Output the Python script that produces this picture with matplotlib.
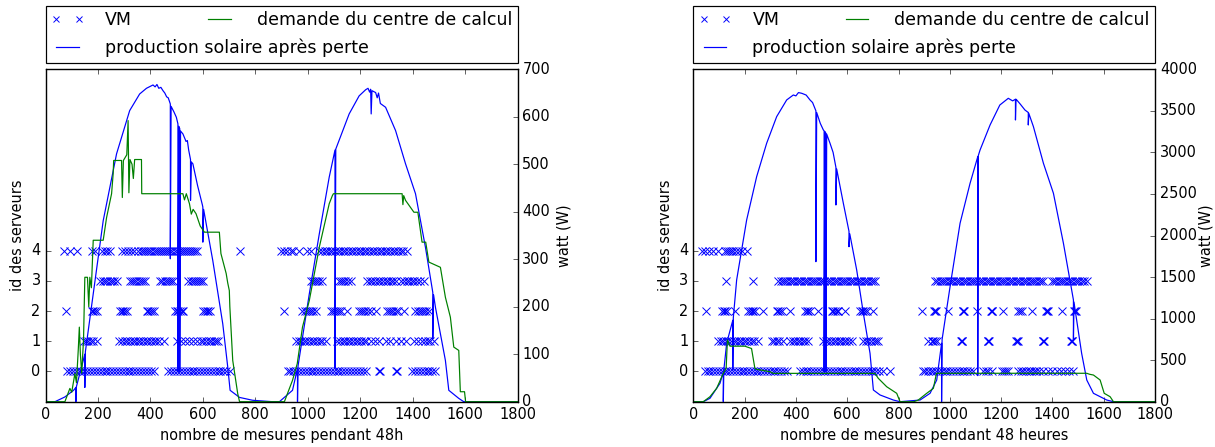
import matplotlib
matplotlib.use('Agg')
import matplotlib.pyplot as plt
from matplotlib.lines import Line2D

# ---------- donnees ----------
# production solaire apres perte (mesure, watt) - petit panneau
sol_48h = [(0, 0), (36, 0), (74, 10), (107, 24), (116, 30), (116, 0), (118, 32),
           (144, 87), (150, 100), (150, 30), (152, 105), (182, 227), (220, 381),
           (271, 522), (321, 613), (359, 648), (385, 660), (410, 667), (418, 663),
           (425, 668), (432, 660), (440, 662), (448, 655), (455, 650), (462, 642),
           (468, 640), (473, 632), (476, 627), (476, 301), (479, 622), (490, 610),
           (499, 599), (505, 585), (505, 63), (508, 580), (512, 575), (512, 63),
           (515, 570), (524, 564), (530, 556), (536, 548), (541, 550), (546, 530),
           (553, 510), (553, 424), (556, 505), (562, 501), (580, 455), (598, 415),
           (600, 410), (600, 336), (603, 405), (638, 297), (676, 164), (695, 73),
           (704, 24), (740, 9), (790, 3), (866, 0), (892, 0), (942, 24), (961, 70),
           (961, 0), (963, 75), (1006, 227), (1044, 353), (1082, 473), (1104, 530),
           (1104, 70), (1107, 532), (1158, 606), (1196, 644), (1221, 657),
           (1230, 660), (1236, 652), (1240, 658), (1242, 606), (1245, 655),
           (1259, 651), (1265, 640), (1270, 650), (1277, 628), (1297, 620),
           (1335, 571), (1373, 501), (1411, 438), (1449, 325), (1477, 230),
           (1477, 133), (1480, 225), (1487, 199), (1525, 87), (1538, 24),
           (1576, 7), (1595, 0), (1800, 0)]

# demande du centre de calcul - petit panneau
dem_48h = [(0, 0), (74, 0), (93, 28), (100, 20), (112, 59), (118, 40), (125, 110),
           (129, 157), (133, 100), (138, 60), (145, 130), (150, 262), (160, 262),
           (165, 200), (169, 262), (175, 240), (182, 340), (220, 340), (233, 388),
           (252, 438), (258, 480), (260, 508), (290, 508), (293, 430), (297, 508),
           (310, 520), (315, 592), (318, 440), (322, 510), (330, 500), (335, 470),
           (340, 510), (366, 510), (367, 438), (524, 438), (530, 425), (537, 438),
           (549, 417), (556, 395), (563, 405), (574, 396), (590, 370), (606, 357),
           (663, 357), (669, 312), (689, 270), (695, 250), (701, 234), (703, 200),
           (714, 87), (733, 17), (740, 0), (911, 0), (942, 45), (960, 80),
           (980, 157), (1006, 213), (1044, 325), (1082, 417), (1094, 434),
           (1098, 438), (1360, 438), (1363, 415), (1366, 434), (1373, 424),
           (1405, 399), (1420, 399), (1436, 336), (1450, 336), (1462, 294),
           (1506, 283), (1525, 220), (1544, 178), (1557, 115), (1576, 108),
           (1582, 21), (1598, 21), (1602, 0), (1800, 0)]

# production solaire apres perte - grand panneau
sol_48heures = [(0, 0), (39, 0), (65, 41), (104, 221), (117, 360), (117, 0),
                (119, 380), (130, 703), (154, 980), (154, 381), (156, 1010),
                (169, 1465), (208, 2187), (247, 2708), (286, 3110), (325, 3430),
                (364, 3631), (390, 3691), (400, 3680), (410, 3720), (423, 3711),
                (440, 3690), (455, 3631), (465, 3600), (478, 3500), (478, 1685),
                (481, 3480), (495, 3350), (507, 3270), (510, 3260), (510, 361),
                (513, 3250), (517, 3230), (517, 361), (520, 3220), (533, 3110),
                (545, 3000), (556, 2820), (556, 2367), (559, 2800), (585, 2387),
                (607, 2050), (607, 1865), (610, 2020), (637, 1585), (663, 1064),
                (689, 582), (702, 141), (728, 81), (780, 20), (806, 0), (884, 20),
                (923, 101), (949, 261), (968, 703), (968, 0), (970, 750),
                (1001, 1384), (1040, 2147), (1079, 2628), (1109, 2948),
                (1109, 314), (1111, 2960), (1118, 3029), (1157, 3330),
                (1195, 3570), (1228, 3651), (1245, 3620), (1256, 3640),
                (1256, 3390), (1258, 3640), (1261, 3631), (1275, 3580),
                (1293, 3510), (1306, 3480), (1306, 3330), (1308, 3470),
                (1326, 3310), (1365, 2869), (1404, 2508), (1443, 1906),
                (1482, 1224), (1482, 742), (1484, 1200), (1514, 582), (1534, 261),
                (1560, 101), (1612, 20), (1638, 0), (1800, 0)]

# demande du centre de calcul - grand panneau
dem_48heures = [(0, 0), (39, 0), (65, 60), (91, 161), (117, 342), (128, 400),
                (133, 742), (139, 700), (143, 668), (201, 668), (227, 640),
                (240, 402), (247, 390), (298, 361), (312, 341), (708, 341),
                (721, 282), (754, 180), (793, 101), (806, 0), (860, 0), (877, 20),
                (910, 101), (936, 161), (948, 342), (1534, 342), (1545, 330),
                (1560, 321), (1586, 261), (1602, 101), (1625, 60), (1638, 0),
                (1800, 0)]

# VM : position (mesure) pour chaque id de serveur - petit panneau
vm_48h = {
    0: [82, 93, 104, 115, 126, 137, 148, 159, 170, 181, 192, 203, 214, 225, 236,
        247, 258, 269, 280, 291, 302, 313, 324, 335, 346, 357, 368, 379, 390, 401,
        412, 469, 480, 491, 502, 513, 524, 535, 546, 557, 568, 579, 590, 601, 612,
        623, 634, 645, 656, 667, 678, 689, 703, 923, 934, 945, 956, 967, 978, 989,
        1000, 1011, 1022, 1033, 1044, 1055, 1066, 1077, 1088, 1099, 1110, 1121,
        1132, 1143, 1154, 1165, 1176, 1187, 1198, 1209, 1221, 1272, 1276, 1335,
        1339, 1398, 1409, 1420, 1431, 1442, 1453, 1464, 1475, 1487],
    1: [146, 155, 163, 172, 180, 196, 279, 292, 302, 312, 322, 332, 342, 352, 362,
        372, 382, 392, 402, 412, 422, 433, 450, 500, 517, 533, 548, 563, 578, 592,
        602, 612, 622, 632, 642, 650, 659, 955, 965, 975, 985, 995, 1005, 1015,
        1025, 1035, 1045, 1055, 1069, 1113, 1123, 1133, 1143, 1153, 1163, 1173,
        1183, 1193, 1203, 1213, 1223, 1240, 1256, 1272, 1297, 1315, 1335, 1355,
        1373, 1405, 1420, 1435, 1448, 1458, 1468, 1481],
    2: [79, 177, 183, 190, 196, 285, 290, 296, 303, 310, 386, 392, 399, 405, 412,
        494, 500, 506, 513, 520, 526, 602, 608, 614, 620, 627, 911, 980, 988, 996,
        1004, 1012, 1020, 1031, 1088, 1096, 1104, 1112, 1120, 1128, 1151, 1196,
        1204, 1212, 1220, 1228, 1240, 1259, 1303, 1311, 1319, 1327, 1335, 1345,
        1367, 1411, 1419, 1427, 1435, 1443, 1451, 1462],
    3: [209, 218, 227, 236, 245, 254, 263, 272, 323, 331, 339, 347, 355, 363, 371,
        380, 437, 445, 455, 463, 471, 480, 488, 545, 553, 561, 569, 578, 586, 594,
        602, 1012, 1020, 1028, 1036, 1044, 1056, 1120, 1128, 1136, 1144, 1152,
        1164, 1227, 1237, 1247, 1257, 1267, 1277, 1287, 1297, 1307, 1317, 1327,
        1337, 1355, 1367, 1377, 1387, 1397, 1407, 1417, 1427, 1443],
    4: [70, 95, 120, 177, 190, 215, 225, 235, 247, 291, 303, 315, 327, 339, 351,
        363, 372, 380, 388, 396, 404, 412, 420, 428, 436, 444, 452, 460, 468, 476,
        484, 492, 500, 508, 516, 524, 532, 540, 548, 556, 564, 572, 576, 741, 898,
        910, 920, 935, 945, 968, 999, 1012, 1044, 1054, 1064, 1074, 1084, 1094,
        1104, 1114, 1124, 1134, 1144, 1154, 1164, 1174, 1184, 1194, 1204, 1214,
        1224, 1234, 1244, 1254, 1264, 1274, 1284, 1294, 1304, 1314, 1324, 1334,
        1344, 1354, 1364, 1379],
}

# VM - grand panneau
vm_48heures = {
    0: [45, 56, 67, 78, 89, 100, 111, 122, 133, 144, 155, 166, 177, 188, 199, 210,
        221, 232, 243, 254, 265, 276, 287, 298, 309, 320, 331, 342, 353, 364, 416,
        427, 438, 449, 460, 471, 482, 493, 504, 515, 526, 537, 548, 559, 570, 581,
        592, 603, 614, 625, 636, 647, 658, 669, 680, 691, 702, 713, 724, 741, 767,
        897, 903, 914, 925, 936, 947, 958, 969, 980, 991, 1002, 1013, 1024, 1035,
        1046, 1057, 1068, 1079, 1092, 1131, 1140, 1150, 1163, 1202, 1210, 1218,
        1228, 1267, 1277, 1287, 1297, 1307, 1317, 1327, 1337, 1347, 1365, 1384,
        1400, 1416, 1432, 1448, 1464, 1481],
    1: [97, 107, 117, 127, 137, 147, 157, 167, 177, 187, 197, 207, 217, 227, 237,
        253, 305, 315, 325, 335, 351, 377, 387, 397, 407, 417, 427, 437, 448, 507,
        517, 527, 537, 547, 557, 567, 577, 587, 597, 607, 617, 663, 673, 683, 693,
        703, 713, 721, 916, 929, 935, 942, 949, 1043, 1046, 1049, 1147, 1150,
        1153, 1258, 1261, 1264, 1362, 1365, 1368, 1472, 1475, 1478],
    2: [49, 110, 118, 124, 130, 162, 214, 220, 227, 234, 240, 273, 325, 331, 338,
        344, 377, 435, 442, 449, 455, 487, 539, 546, 552, 559, 565, 591, 650, 656,
        663, 669, 676, 702, 890, 939, 942, 945, 994, 1050, 1053, 1056, 1105, 1160,
        1163, 1166, 1209, 1267, 1274, 1280, 1319, 1375, 1378, 1381, 1436, 1485,
        1488, 1491],
    3: [126, 234, 331, 340, 349, 358, 367, 376, 385, 394, 403, 412, 421, 430, 439,
        448, 457, 466, 475, 484, 493, 502, 511, 520, 529, 538, 547, 556, 565, 574,
        583, 592, 601, 610, 619, 628, 637, 646, 655, 664, 673, 682, 691, 700, 708,
        942, 951, 960, 969, 978, 987, 996, 1005, 1014, 1023, 1032, 1041, 1050,
        1059, 1068, 1077, 1086, 1095, 1104, 1113, 1122, 1131, 1140, 1149, 1158,
        1167, 1176, 1185, 1194, 1203, 1212, 1221, 1230, 1239, 1248, 1257, 1266,
        1275, 1284, 1293, 1302, 1311, 1320, 1329, 1338, 1347, 1356, 1365, 1397,
        1406, 1415, 1424, 1433, 1442, 1451, 1460, 1469, 1478, 1487, 1496, 1505,
        1514, 1523, 1534],
    4: [32, 45, 60, 75, 97, 123, 131, 139, 147, 155, 165, 180, 190, 208],
}

xlabels = ["nombre de mesures pendant 48h", "nombre de mesures pendant 48 heures"]
watt_max = [700, 4000]
server_ids = [0, 1, 2, 3, 4]


def panel(fig, rect, vm, sol, dem, xlabel, wmax, wpad):
    ax1 = fig.add_axes(rect)
    for sid in server_ids:
        ax1.plot(vm[sid], [sid] * len(vm[sid]), 'bx', mew=0.8)
    ax1.set_ylim(-1, 10)
    ax1.set_yticks(server_ids)
    ax1.set_xlim(0, 1800)
    ax1.set_xticks(range(0, 1801, 200))
    ax1.set_ylabel("id des serveurs")
    ax1.set_xlabel(xlabel)

    ax2 = ax1.twinx()
    sx, sw = zip(*sol)
    dx, dw = zip(*dem)
    ax2.plot(sx, sw, 'b-')
    ax2.plot(dx, dw, 'g-')
    ax2.set_ylim(0, wmax)
    ax2.set_xlim(0, 1800)
    ax2.set_ylabel("watt (W)", labelpad=wpad)

    handles = [Line2D([], [], color='b', marker='x', linestyle='None', mew=0.8,
                      markersize=5),
               Line2D([], [], color='b'),
               Line2D([], [], color='g')]
    labels = ["VM", "production solaire après perte", "demande du centre de calcul"]
    ax2.legend(handles, labels, bbox_to_anchor=(0., 1.02, 1., .102), loc=3,
               ncol=2, mode="expand", borderaxespad=0., numpoints=2,
               handlelength=1.9, handletextpad=1.2, borderpad=0.3,
               labelspacing=0.55)
    return ax1, ax2


plt.style.use('classic')
plt.rcParams['savefig.facecolor'] = 'white'
plt.rcParams['figure.facecolor'] = 'white'

dpi = 87
fig = plt.figure(figsize=(1215 / dpi, 447 / dpi), dpi=dpi)

bottom = 45.3 / 447
height = 332.4 / 447
panel(fig, [45.5 / 1215, bottom, 472 / 1215, height], vm_48h, sol_48h, dem_48h,
      xlabels[0], watt_max[0], 5)
panel(fig, [693.3 / 1215, bottom, 461.7 / 1215, height], vm_48heures, sol_48heures,
      dem_48heures, xlabels[1], watt_max[1], 1)

fig.savefig("out.png", dpi=dpi)
